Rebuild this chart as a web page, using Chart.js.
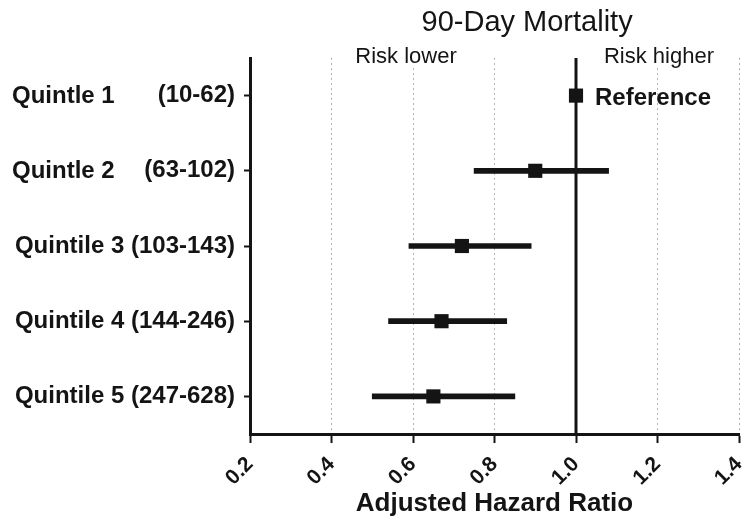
<!DOCTYPE html>
<html>
<head>
<meta charset="utf-8">
<script src="https://cdn.jsdelivr.net/npm/chart.js@4"></script>
<style>
  html, body { margin: 0; padding: 0; background: #ffffff; }
  #wrap { width: 750px; height: 527px; position: relative; }
</style>
</head>
<body>
<div id="wrap"><canvas id="c"></canvas></div>
<script>
// ---- data ----
const groupNames = ['Quintle 1', 'Quintle 2', 'Quintile 3', 'Quintile 4', 'Quintile 5'];
const ranges = ['(10-62)', '(63-102)', '(103-143)', '(144-246)', '(247-628)'];
const hazardRatio = [1.00, 0.90, 0.72, 0.67, 0.65];
const ciLower = [null, 0.75, 0.59, 0.54, 0.50];
const ciUpper = [null, 1.08, 0.89, 0.83, 0.85];
const referenceValue = 1.0;
const xMin = 0.2, xMax = 1.4, xStep = 0.2;
const titleText = '90-Day Mortality';
const xTitle = 'Adjusted Hazard Ratio';
const lowerNote = 'Risk lower';
const higherNote = 'Risk higher';
const referenceNote = 'Reference';
// rows whose name is drawn separately from the range (aligned left)
const splitRows = [0, 1];

const FONT = '"Liberation Sans", Arial, Helvetica, sans-serif';
const INK = '#141414';

const ciData = ciLower.map((lo, i) => (lo === null ? null : [lo, ciUpper[i]]));
const categoryLabels = ranges.map((r, i) => splitRows.includes(i) ? r : groupNames[i] + ' ' + r);

const overlay = {
  id: 'overlay',
  beforeDatasetsDraw(chart) {
    const { ctx, chartArea, scales } = chart;
    const x = scales.x.getPixelForValue(referenceValue);
    ctx.save();
    ctx.strokeStyle = INK;
    ctx.lineWidth = 3;
    ctx.beginPath();
    ctx.moveTo(x, chartArea.top);
    ctx.lineTo(x, chartArea.bottom);
    ctx.stroke();
    ctx.restore();
  },
  afterDraw(chart) {
    const { ctx, chartArea, scales } = chart;
    const xs = scales.x, ys = scales.y;
    ctx.save();
    ctx.fillStyle = INK;
    // split row names
    ctx.font = 'bold 24px ' + FONT;
    ctx.textAlign = 'left';
    ctx.textBaseline = 'middle';
    splitRows.forEach(i => {
      ctx.fillText(groupNames[i], 12, ys.getPixelForValue(i) + 1);
    });
    // Reference label
    ctx.font = 'bold 24px ' + FONT;
    ctx.fillText(referenceNote, xs.getPixelForValue(hazardRatio[0]) + 19, ys.getPixelForValue(0) + 3);
    // Risk notes with white background
    ctx.font = '22px ' + FONT;
    ctx.textAlign = 'center';
    const notes = [[lowerNote, xs.getPixelForValue(1.0) - 170], [higherNote, xs.getPixelForValue(1.0) + 83]];
    notes.forEach(([t, cx]) => {
      const w = ctx.measureText(t).width;
      ctx.fillStyle = '#ffffff';
      ctx.fillRect(cx - w / 2 - 2, chartArea.top - 2, w + 4, 10);
      ctx.fillStyle = INK;
      ctx.fillText(t, cx, chartArea.top - 1);
    });
    // Title
    ctx.font = '29px ' + FONT;
    ctx.fillText(titleText, xs.getPixelForValue(0.88), 23);
    ctx.restore();
  }
};

const isHidden = v => Math.abs(v - referenceValue) < 1e-6 || Math.abs(v - xMin) < 1e-6;

new Chart(document.getElementById('c'), {
  data: {
    labels: categoryLabels,
    datasets: [
      {
        type: 'line',
        label: 'Hazard ratio',
        data: hazardRatio,
        indexAxis: 'y',
        showLine: false,
        pointStyle: 'rect',
        pointRadius: 10,
        pointHoverRadius: 10,
        backgroundColor: INK,
        borderColor: INK,
        borderWidth: 0,
        order: 0
      },
      {
        type: 'bar',
        label: '95% CI',
        data: ciData,
        indexAxis: 'y',
        backgroundColor: INK,
        borderWidth: 0,
        barThickness: 5,
        borderSkipped: false,
        order: 1
      }
    ]
  },
  options: {
    indexAxis: 'y',
    responsive: true,
    maintainAspectRatio: false,
    animation: false,
    layout: { padding: { top: 58, right: 11, bottom: 0, left: 0 } },
    plugins: {
      legend: { display: false },
      tooltip: { enabled: false },
      title: { display: false }
    },
    scales: {
      x: {
        type: 'linear',
        position: 'bottom',
        min: xMin,
        max: xMax,
        afterFit: s => { s.height = 93; s.paddingRight = 0; s.paddingLeft = 0; },
        ticks: {
          stepSize: xStep,
          minRotation: 45,
          maxRotation: 45,
          padding: 9,
          color: INK,
          font: { family: FONT, size: 21, weight: 'bold' },
          callback: v => Number(v).toFixed(1)
        },
        grid: {
          color: c => (c.tick && isHidden(c.tick.value)) ? 'rgba(0,0,0,0)' : '#b4b4b4',
          lineWidth: 1,
          tickColor: INK,
          tickWidth: 2,
          tickLength: 9,
          tickBorderDash: []
        },
        border: { display: true, color: INK, width: 3, dash: [2, 3] },
        title: {
          display: true,
          text: xTitle,
          color: INK,
          font: { family: FONT, size: 26, weight: 'bold' },
          padding: { top: 0, bottom: 8 }
        }
      },
      y: {
        type: 'category',
        offset: true,
        afterFit: s => { s.width = 250; },
        ticks: {
          color: INK,
          padding: 9,
          font: { family: FONT, size: 24, weight: 'bold' }
        },
        grid: {
          drawOnChartArea: false,
          color: INK,
          tickColor: INK,
          tickWidth: 2,
          tickLength: 6,
          offset: false
        },
        border: { display: true, color: INK, width: 3 }
      }
    }
  },
  plugins: [overlay]
});
</script>
</body>
</html>
